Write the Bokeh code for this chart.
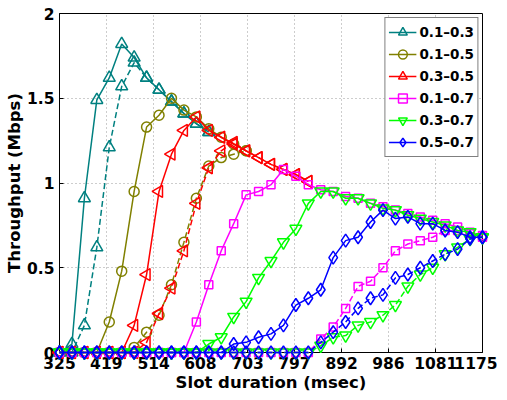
import math
from bokeh.plotting import figure
from bokeh.models import Range1d, FixedTicker, Legend, LegendItem
from bokeh.embed import file_html
from bokeh.resources import INLINE

# Slot duration (msec) sample points
slot = [325, 350, 375, 400, 425, 450, 475, 500, 525, 550, 575, 600, 625, 650,
        675, 700, 725, 750, 775, 800, 825, 850, 875, 900, 925, 950, 975, 1000,
        1025, 1050, 1075, 1100, 1125, 1150, 1175]
x_ticks = [325, 419, 514, 608, 703, 797, 892, 986, 1081, 1175]
y_ticks = [0, 0.5, 1, 1.5, 2]

labels = ["0.1\u20130.3", "0.1\u20130.5", "0.3\u20130.5", "0.1\u20130.7", "0.3\u20130.7", "0.5\u20130.7"]
colors = ["#008080", "#808000", "#ff0000", "#ff00ff", "#00ff00", "#0000ff"]

# Throughput (Mbps), solid and dashed variants
teal_solid = [0, 0.05, 0.91, 1.49, 1.62, 1.82, 1.74, 1.62, 1.55, 1.48, 1.41, 1.35, 1.30]
teal_dashed = [0, 0, 0.16, 0.62, 1.21, 1.57, 1.71, 1.62, 1.55, 1.48, 1.41, 1.35, 1.30]
olive_solid = [0, 0, 0, 0, 0.18, 0.48, 0.95, 1.33, 1.40, 1.50, 1.43, 1.39, 1.32, 1.27, 1.23, 1.19]
olive_dashed = [0, 0, 0, 0, 0, 0, 0.03, 0.12, 0.22, 0.40, 0.65, 0.91, 1.10, 1.15, 1.17, 1.19]
red_solid = [0, 0, 0, 0, 0, 0, 0.16, 0.46, 0.95, 1.17, 1.31, 1.39, 1.31, 1.27, 1.23, 1.19,
             1.15, 1.11, 1.08, 1.05, 1.01]
red_dashed = [0, 0, 0, 0, 0, 0, 0, 0.06, 0.23, 0.38, 0.60, 0.88, 1.09, 1.19, 1.24, 1.19,
              1.15, 1.11, 1.08, 1.05, 1.01]
magenta_solid = [0, 0, 0, 0, 0, 0, 0, 0, 0, 0, 0, 0.18, 0.40, 0.60, 0.76, 0.93, 0.95, 0.99,
                 1.08, 1.04, 0.99, 0.96, 0.95, 0.92, 0.91, 0.88, 0.86, 0.84, 0.82, 0.80,
                 0.78, 0.76, 0.74, 0.71, 0.69]
magenta_dashed = [0, 0, 0, 0, 0, 0, 0, 0, 0, 0, 0, 0, 0, 0, 0, 0, 0, 0, 0, 0, 0, 0.08, 0.15,
                  0.26, 0.39, 0.42, 0.50, 0.60, 0.64, 0.66, 0.68, 0.72, 0.72, 0.70, 0.68]
green_solid = [0, 0, 0, 0, 0, 0, 0, 0, 0, 0, 0, 0, 0.05, 0.09, 0.21, 0.30, 0.44, 0.54, 0.65,
               0.73, 0.88, 0.95, 0.95, 0.91, 0.91, 0.88, 0.85, 0.84, 0.81, 0.79, 0.77, 0.75,
               0.72, 0.71, 0.68]
green_dashed = [0, 0, 0, 0, 0, 0, 0, 0, 0, 0, 0, 0, 0, 0, 0, 0, 0, 0, 0, 0, 0, 0.04, 0.09,
                0.10, 0.16, 0.18, 0.22, 0.28, 0.39, 0.46, 0.50, 0.58, 0.62, 0.67, 0.68]
blue_solid = [0, 0, 0, 0, 0, 0, 0, 0, 0, 0, 0, 0, 0, 0, 0.05, 0.06, 0.09, 0.11, 0.16, 0.28,
              0.32, 0.37, 0.56, 0.66, 0.68, 0.77, 0.84, 0.79, 0.80, 0.76, 0.76, 0.72, 0.71,
              0.68, 0.68]
blue_dashed = [0, 0, 0, 0, 0, 0, 0, 0, 0, 0, 0, 0, 0, 0, 0, 0, 0, 0, 0, 0, 0, 0.06, 0.12,
               0.18, 0.26, 0.32, 0.34, 0.44, 0.46, 0.50, 0.54, 0.58, 0.61, 0.67, 0.68]

solid = [teal_solid, olive_solid, red_solid, magenta_solid, green_solid, blue_solid]
dashed = [teal_dashed, olive_dashed, red_dashed, magenta_dashed, green_dashed, blue_dashed]
markers = ["triangle", "circle", "triangle", "square", "inverted_triangle", "diamond"]
angles = [0, 0, math.pi / 2, 0, 0, 0]
sizes = [12, 10, 12, 8, 12, 13]

FONT = "DejaVu Sans"

p = figure(width=497, height=394, output_backend="svg", toolbar_location=None,
           x_range=Range1d(325, 1175), y_range=Range1d(0, 2),
           min_border_left=59, min_border_right=15, min_border_top=13, min_border_bottom=41)
p.background_fill_color = "white"
p.border_fill_color = "white"
p.outline_line_color = "black"
p.outline_line_width = 1
p.outline_line_alpha = 1

p.xaxis.ticker = FixedTicker(ticks=x_ticks)
p.yaxis.ticker = FixedTicker(ticks=y_ticks)
p.yaxis.major_label_overrides = {0: "0", 0.5: "0.5", 1: "1", 1.5: "1.5", 2: "2"}
for ax in (p.xaxis, p.yaxis):
    ax.major_tick_in = 4
    ax.major_tick_out = 0
    ax.minor_tick_line_color = None
    ax.axis_line_color = "black"
    ax.major_tick_line_color = "black"
    ax.major_label_text_font = FONT
    ax.major_label_text_font_style = "bold"
    ax.major_label_text_font_size = "15.5px"
    ax.major_label_text_color = "black"
    ax.axis_label_text_font = FONT
    ax.axis_label_text_font_style = "bold"
    ax.axis_label_text_font_size = "16.5px"
    ax.axis_label_text_color = "black"
p.xaxis.axis_label = "Slot duration (msec)"
p.yaxis.axis_label = "Throughput (Mbps)"
p.xaxis.major_label_standoff = 4
p.xaxis.axis_label_standoff = 1
p.yaxis.major_label_standoff = 5
p.yaxis.axis_label_standoff = 0

p.grid.grid_line_color = "#9a9a9a"
p.grid.grid_line_dash = "1 3"
p.grid.grid_line_width = 1

items = []
for i in range(6):
    c = colors[i]
    for ys, dash in ((solid[i], "solid"), (dashed[i], "6 3")):
        xs = slot[:len(ys)]
        lr = p.line(xs, ys, line_color=c, line_width=1.5, line_dash=dash, level="overlay")
        sr = p.scatter(xs, ys, marker=markers[i], size=sizes[i], angle=angles[i],
                       fill_color=None, fill_alpha=0, line_color=c, line_width=1.5,
                       level="overlay")
        if dash == "solid":
            items.append(LegendItem(label=labels[i], renderers=[lr, sr]))

legend = Legend(items=items, location="top_right")
legend.margin = 4
legend.padding = 3
legend.spacing = -3
legend.glyph_width = 28
legend.glyph_height = 22
legend.label_height = 16
legend.label_standoff = 3
legend.label_text_font = FONT
legend.label_text_font_style = "bold"
legend.label_text_font_size = "13.5px"
legend.label_text_color = "black"
legend.border_line_color = "black"
legend.border_line_width = 1
legend.background_fill_color = "white"
legend.background_fill_alpha = 1
p.add_layout(legend)

open("out.html", "w").write(file_html(p, INLINE))
